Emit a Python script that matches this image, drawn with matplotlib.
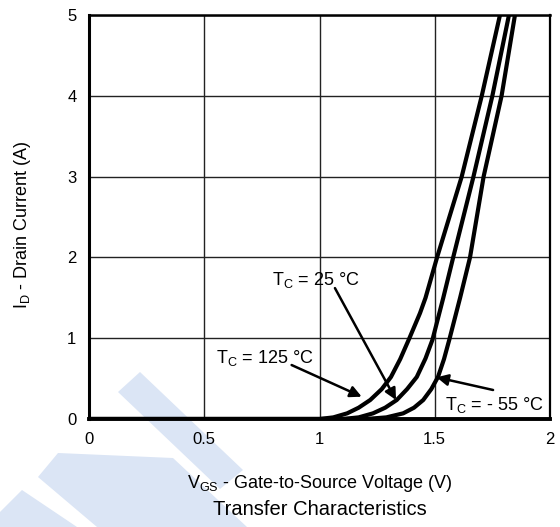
import matplotlib
matplotlib.use("Agg")
import matplotlib.pyplot as plt
from matplotlib.patches import Polygon

plt.rcParams['font.family'] = ['Liberation Sans', 'DejaVu Sans']
plt.rcParams['mathtext.fontset'] = 'custom'
plt.rcParams['mathtext.rm'] = 'Liberation Sans'
plt.rcParams['mathtext.it'] = 'Liberation Sans'

# curve data (V_GS in V, I_D in A)
vgs_125 = [0.0, 1.00, 1.06, 1.12, 1.17, 1.22, 1.27, 1.31, 1.35, 1.39, 1.436, 1.46, 1.51, 1.617, 1.704, 1.783]
id_125 = [0.0, 0.0, 0.02, 0.07, 0.14, 0.235, 0.37, 0.52, 0.74, 1.0, 1.31, 1.5, 2.0, 3.0, 4.0, 5.0]

vgs_25 = [0.0, 1.10, 1.17, 1.232, 1.285, 1.335, 1.38, 1.422, 1.46, 1.49, 1.537, 1.58, 1.668, 1.75, 1.822]
id_25 = [0.0, 0.0, 0.02, 0.07, 0.14, 0.235, 0.37, 0.52, 0.75, 0.98, 1.5, 2.0, 3.0, 4.0, 5.0]

vgs_m55 = [0.0, 1.20, 1.29, 1.363, 1.41, 1.45, 1.485, 1.514, 1.54, 1.563, 1.61, 1.653, 1.712, 1.790, 1.848]
id_m55 = [0.0, 0.0, 0.02, 0.07, 0.14, 0.235, 0.37, 0.52, 0.74, 0.98, 1.5, 2.0, 3.0, 4.0, 5.0]

x_ticks = [0, 0.5, 1, 1.5, 2]
x_tick_labels = ['0', '0.5', '1', '1.5', '2']
y_ticks = [0, 1, 2, 3, 4, 5]

fig = plt.figure(figsize=(5.6, 5.27), dpi=100)

# faint blue watermark stripes (pixel coords)
wm_shapes = [
    [(118, 392), (140, 372), (243, 470), (220, 489)],
    [(38, 477), (58, 453), (173, 458), (247, 527), (97, 527)],
    [(0, 512), (22, 490), (77, 527), (0, 527)],
]
for shp in wm_shapes:
    pts = [(x / 560, 1 - y / 527) for x, y in shp]
    fig.patches.append(Polygon(pts, closed=True, transform=fig.transFigure,
                               facecolor='#dbe5f5', edgecolor='none', zorder=-5))

ax = fig.add_axes([89 / 560, 1 - 419 / 527, 461 / 560, 404 / 527])
ax.patch.set_alpha(0)

for xs, ys in [(vgs_125, id_125), (vgs_25, id_25), (vgs_m55, id_m55)]:
    ax.plot(xs, ys, color='black', lw=3, solid_joinstyle='round', zorder=3)

ax.set_xlim(0, 2)
ax.set_ylim(0, 5)
ax.set_xticks(x_ticks)
ax.set_xticklabels(x_tick_labels)
ax.set_yticks(y_ticks)
ax.tick_params(length=0, labelsize=12)
ax.tick_params(axis='x', pad=9)
ax.tick_params(axis='y', pad=9)
ax.grid(True, color='#222222', lw=1.0)
ax.set_axisbelow(True)

ax.spines['left'].set_linewidth(2.2)
ax.spines['bottom'].set_linewidth(2.8)
ax.spines['top'].set_linewidth(1.8)
ax.spines['right'].set_linewidth(1.6)

fig.text(319.5 / 560, 1 - 488 / 527, '$\\mathregular{V_{GS}}$ - Gate-to-Source Voltage (V)',
         ha='center', va='baseline', fontsize=13)
fig.text(319.5 / 560, 1 - 515 / 527, 'Transfer Characteristics',
         ha='center', va='baseline', fontsize=14.5)
fig.text(23 / 560, 1 - 225 / 527, '$\\mathregular{I_{D}}$ - Drain Current (A)',
         ha='center', va='center', rotation=90, fontsize=13)

arrow = dict(arrowstyle='-|>', color='black', lw=1.8, mutation_scale=17, shrinkA=0, shrinkB=0)
ax.text(0.985, 1.658, '$\\mathregular{T_C}$ = 25 °C', ha='center', va='baseline', fontsize=13)
ax.annotate('', xy=(1.332, 0.235), xytext=(1.067, 1.62), arrowprops=arrow)
ax.text(0.764, 0.693, '$\\mathregular{T_C}$ = 125 °C', ha='center', va='baseline', fontsize=13)
ax.annotate('', xy=(1.183, 0.276), xytext=(0.879, 0.668), arrowprops=arrow)
ax.text(1.757, 0.111, '$\\mathregular{T_C}$ = - 55 °C', ha='center', va='baseline', fontsize=13)
ax.annotate('', xy=(1.508, 0.516), xytext=(1.753, 0.359), arrowprops=arrow)

fig.savefig('out.png', dpi=100)
